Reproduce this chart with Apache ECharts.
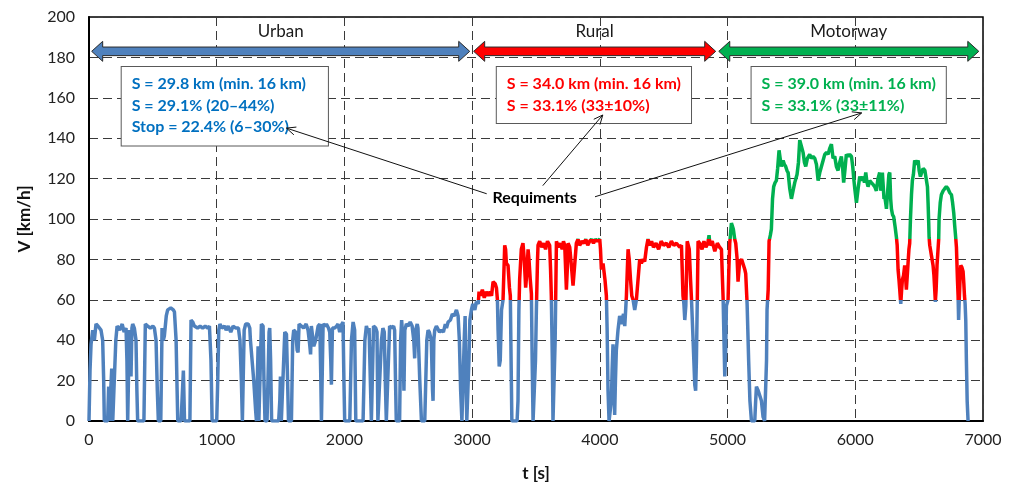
<!DOCTYPE html>
<html><head><meta charset="utf-8">
<script src="https://cdn.jsdelivr.net/npm/echarts@6/dist/echarts.min.js"></script>
<style>html,body{margin:0;padding:0;background:#fff}#c{width:1016px;height:489px}</style>
</head><body><div id="c"></div>
<script>
// speed trace: [time s, speed km/h]
const speedTrace = [
[0,0],[8,25],[16,38],[29,45],[42,40],[55,48],[70,47],[81,47],[94,45],[107,40],[115,20],[120,0],[146,0],[154,17],[159,0],[170,0],[178,26],[186,0],[200,0],
[210,40],[220,47],[240,45],[260,48],[275,44],[290,46],[297,30],[303,0],[312,0],[316,45],[325,40],[329,22],[336,46],[342,48],[355,46],[368,40],[375,15],[381,0],[430,0],
[441,48],[460,47],[480,46],[500,47],[512,46],[525,40],[535,15],[543,0],[562,0],[572,46],[582,40],[590,42],[605,52],[616,55],[640,56],[660,55],[669,54],[682,40],[690,15],[695,0],
[721,0],[739,25],[748,0],[765,0],[790,0],[799,50],[812,49],[825,47],[850,46],[870,47],[890,46],[910,47],[930,46],[943,47],[955,30],[964,0],[1000,0],
[1008,20],[1016,45],[1025,48],[1040,46],[1060,47],[1074,45],[1090,47],[1110,44],[1128,47],[1150,46],[1170,46],[1182,40],[1193,20],[1201,0],[1208,0],
[1215,45],[1227,48],[1246,48],[1259,46],[1264,40],[1279,40],[1290,20],[1305,5],[1311,0],[1318,0],[1324,37],[1330,0],[1340,0],[1350,48],[1363,47],[1370,20],[1378,0],[1394,0],
[1410,44],[1415,46],[1422,30],[1430,0],[1485,0],[1494,10],[1499,22],[1506,0],[1520,0],[1533,44],[1546,43],[1555,20],[1562,0],[1585,0],
[1595,40],[1603,45],[1619,44],[1630,35],[1637,34],[1645,48],[1663,47],[1680,46],[1700,48],[1715,45],[1728,38],[1735,33],[1741,47],[1760,37],[1775,40],[1794,47],[1807,48],[1814,25],[1820,0],[1826,0],
[1833,48],[1850,47],[1859,48],[1875,46],[1885,44],[1893,30],[1898,18],[1906,46],[1924,46],[1940,47],[1950,48],[1963,44],[1980,48],[1989,49],[1996,20],[2002,0],[2042,0],
[2055,40],[2068,49],[2080,45],[2089,0],[2146,0],[2160,40],[2172,47],[2185,44],[2193,46],[2203,20],[2211,0],[2218,0],[2228,47],[2245,46],[2255,44],[2262,0],[2275,0],
[2290,40],[2301,46],[2312,44],[2320,20],[2328,0],[2341,0],[2354,47],[2370,46],[2385,47],[2393,45],[2400,20],[2406,0],[2432,0],
[2440,40],[2448,50],[2458,40],[2466,15],[2473,45],[2485,48],[2500,47],[2515,49],[2530,47],[2543,40],[2550,31],[2557,45],[2570,48],[2576,46],[2590,20],[2603,0],[2629,0],
[2645,40],[2655,45],[2665,44],[2680,40],[2690,15],[2694,10],[2700,40],[2707,45],[2720,47],[2733,47],[2745,44],[2760,45],[2775,44],[2790,48],[2799,46],[2812,49],[2830,50],[2845,53],[2860,52],[2877,55],[2890,52],[2900,40],[2910,15],[2920,0],[2930,0],
[2938,40],[2945,52],[2952,20],[2958,0],[2968,0],[2975,30],[2982,50],[2994,55],[3005,58],[3021,55],[3033,59],[3048,58],[3054,64],[3065,62],[3080,65],[3095,61],[3110,64],[3125,62],[3140,64],[3152,62],[3164,69],[3180,68],[3190,66],[3198,60],
[3203,45],[3212,27],[3220,30],[3230,55],[3242,60],[3255,87],[3262,85],[3268,78],[3281,77],[3292,66],[3299,62],[3305,30],[3311,0],[3352,0],[3359,10],[3366,55],[3372,70],[3385,85],[3398,88],[3408,80],[3419,66],[3430,75],[3438,85],[3445,80],[3455,70],[3464,63],[3470,30],[3477,0],[3487,0],
[3496,30],[3503,55],[3512,80],[3516,87],[3529,89],[3545,86],[3560,88],[3575,85],[3590,89],[3607,87],[3614,75],[3620,62],[3628,30],[3633,0],[3646,0],[3650,40],[3654,60],[3660,89],[3673,86],[3690,88],[3705,85],[3715,89],[3725,87],[3738,65],[3745,75],[3751,88],[3764,86],[3777,77],[3790,67],[3800,75],
[3816,88],[3829,90],[3842,87],[3860,89],[3875,88],[3890,90],[3905,87],[3920,89],[3935,90],[3950,88],[3965,90],[3980,89],[3999,90],[4005,85],[4012,75],[4025,78],[4040,70],[4051,62],[4057,45],[4064,15],[4072,0],[4085,0],
[4090,10],[4096,25],[4103,38],[4110,20],[4116,3],[4122,20],[4129,35],[4142,45],[4155,52],[4170,48],[4185,53],[4195,47],[4202,55],[4208,62],[4215,75],[4221,85],[4230,80],[4240,70],[4250,62],[4260,60],[4273,55],[4286,60],[4300,60],
[4312,80],[4325,78],[4338,80],[4351,79],[4365,86],[4377,90],[4390,87],[4405,89],[4420,86],[4440,88],[4460,85],[4480,89],[4500,87],[4520,88],[4540,86],[4560,89],[4580,87],[4600,88],[4625,86],[4639,87],[4651,62],[4658,58],[4665,50],[4673,57],
[4684,89],[4691,89],[4700,85],[4710,70],[4717,61],[4730,40],[4743,18],[4750,15],[4756,30],[4763,60],[4769,89],[4782,88],[4800,85],[4815,89],[4830,86],[4845,88],[4855,92],[4862,87],[4880,89],[4900,84],[4920,88],[4938,86],[4952,85],[4960,70],[4965,61],
[4972,40],[4978,22],[4985,35],[4991,57],[5004,60],[5010,75],[5017,88],[5030,98],[5045,95],[5056,90],[5064,88],[5075,80],[5082,69],[5095,79],[5110,80],[5121,80],[5135,75],[5142,73],[5150,62],[5153,58],[5165,30],[5175,10],[5187,0],[5213,0],
[5220,10],[5226,17],[5240,15],[5252,15],[5265,10],[5278,2],[5290,0],[5299,0],[5305,30],[5309,55],[5318,65],[5325,89],[5335,92],[5343,95],[5352,110],[5361,116],[5372,118],[5382,119],[5392,125],[5403,134],[5412,130],[5421,126],[5435,129],[5445,127],[5455,126],[5465,124],[5474,123],
[5487,115],[5500,110],[5513,114],[5526,118],[5535,120],[5544,122],[5555,128],[5565,139],[5578,136],[5591,133],[5602,128],[5612,126],[5625,130],[5643,132],[5656,130],[5669,131],[5683,130],[5696,127],[5709,119],[5722,123],[5735,126],[5748,129],[5761,132],[5775,133],[5787,132],
[5800,135],[5813,137],[5826,130],[5839,131],[5852,126],[5865,124],[5878,128],[5891,131],[5900,126],[5909,118],[5920,125],[5930,132],[5945,131],[5956,132],[5970,131],[5980,126],[5988,120],[5998,114],[6009,108],[6022,115],[6035,121],[6048,119],[6061,121],[6072,118],[6082,123],
[6092,118],[6100,116],[6113,119],[6126,118],[6140,117],[6152,116],[6165,114],[6178,120],[6191,123],[6200,114],[6204,116],[6212,123],[6218,117],[6225,110],[6231,111],[6238,108],[6244,105],[6255,115],[6263,122],[6270,123],[6277,110],[6283,105],[6292,102],[6301,101],[6312,96],[6322,91],
[6328,87],[6335,75],[6342,70],[6348,65],[6356,58],[6362,64],[6369,70],[6378,72],[6387,77],[6394,71],[6400,65],[6407,72],[6413,78],[6420,85],[6426,88],[6432,100],[6440,112],[6447,119],[6455,122],[6465,129],[6478,127],[6492,129],[6500,124],[6510,121],[6520,123],[6531,125],[6545,124],[6557,124],
[6565,116],[6570,108],[6575,98],[6578,91],[6583,87],[6596,82],[6609,77],[6616,72],[6622,65],[6627,59],[6633,65],[6640,77],[6647,84],[6653,90],[6656,100],[6665,108],[6674,112],[6688,114],[6700,115],[6713,116],[6726,115],[6740,113],[6753,112],[6762,108],[6771,103],[6778,97],[6786,91],
[6792,86],[6800,70],[6805,62],[6809,50],[6813,58],[6820,70],[6826,77],[6835,76],[6844,74],[6850,68],[6855,62],[6860,58],[6865,50],[6870,30],[6876,10],[6883,0]
];

const xTickValues = [0,1000,2000,3000,4000,5000,6000,7000];
const yTickValues = [0,20,40,60,80,100,120,140,160,180,200];

// speed bands (km/h) and colours
const bandLimits = [60, 90];
const bandColors = ['#4f81bd', '#ff0000', '#00b050'];

// phase arrows: name, start time, end time, colour
const phaseNames = ['Urban', 'Rural', 'Motorway'];
const phaseStart = [21, 3012, 4931];
const phaseEnd = [2981, 4907, 6967];
const phaseArrowLevel = 183;
const phaseLabelLevel = 193;

// info boxes
const boxLines = [
  ['S = 29.8 km (min. 16 km)', 'S = 29.1% (20\u201344%)', 'Stop = 22.4% (6\u201330%)'],
  ['S = 34.0 km (min. 16 km)', 'S = 33.1% (33\u00b110%)'],
  ['S = 39.0 km (min. 16 km)', 'S = 33.1% (33\u00b111%)']
];
const boxTextColors = ['#0070c0', '#ff0000', '#00b050'];
const boxAnchor = [[256, 175.2], [3193, 175.2], [5188, 175.2]];

const reqLabel = 'Requiments';
const reqAnchor = [3490, 110.4];
const reqArrows = [
  [[3114, 112.5], [1546, 145]],
  [[3553, 116.5], [4023, 151.5]],
  [[3962, 111], [6050, 152.5]]
];

const FONT = 'Lato, "Noto Sans", sans-serif';
const chart = echarts.init(document.getElementById('c'));

function renderPhase(params, api) {
  const p1 = api.coord([api.value(0), api.value(2)]);
  const p2 = api.coord([api.value(1), api.value(2)]);
  const lab = api.coord([(api.value(0) + api.value(1)) / 2, phaseLabelLevel]);
  const i = params.dataIndex;
  const y = p1[1], x1 = p1[0], x2 = p2[0];
  const hl = 11, hh = 10, bh = 4.3;
  const pts = [[x1, y], [x1 + hl, y - hh], [x1 + hl, y - bh], [x2 - hl, y - bh], [x2 - hl, y - hh], [x2, y],
               [x2 - hl, y + hh], [x2 - hl, y + bh], [x1 + hl, y + bh], [x1 + hl, y + hh]];
  return {
    type: 'group',
    children: [
      { type: 'polygon', shape: { points: pts }, style: { fill: bandColors[i], stroke: '#2b2b2b', lineWidth: 1 } },
      { type: 'text', x: lab[0], y: lab[1], style: { text: phaseNames[i], font: '17px ' + FONT, fill: '#1a1a1a', align: 'center', verticalAlign: 'middle' } }
    ]
  };
}

chart.setOption({
  animation: false,
  backgroundColor: '#fff',
  grid: { left: 89, right: 33, top: 17, bottom: 68, show: true, borderColor: '#000', borderWidth: 1.5, backgroundColor: 'transparent' },
  xAxis: {
    type: 'value', min: 0, max: 7000, interval: 1000,
    name: 't [s]', nameLocation: 'middle', nameGap: 44,
    nameTextStyle: { fontFamily: FONT, fontWeight: 'bold', fontSize: 17, color: '#111' },
    axisLine: { show: true, onZero: false, lineStyle: { color: '#000', width: 2 } },
    axisTick: { show: false },
    axisLabel: { fontFamily: FONT, fontSize: 16, color: '#222', margin: 11, formatter: v => String(v) },
    splitLine: { show: true, lineStyle: { color: '#3a3a3a', type: [9, 5], width: 1 } }
  },
  yAxis: {
    type: 'value', min: 0, max: 200, interval: 20,
    name: 'V [km/h]', nameLocation: 'middle', nameGap: 56,
    nameTextStyle: { fontFamily: FONT, fontWeight: 'bold', fontSize: 17, color: '#111' },
    axisLine: { show: true, lineStyle: { color: '#000', width: 2 } },
    axisTick: { show: false },
    axisLabel: { fontFamily: FONT, fontSize: 16, color: '#222', margin: 14, formatter: v => String(v) },
    splitLine: { show: true, lineStyle: { color: '#3a3a3a', type: [9, 5], width: 1 } }
  },
  visualMap: {
    type: 'piecewise', show: false, dimension: 1, seriesIndex: 0,
    pieces: [
      { lt: bandLimits[0], color: bandColors[0] },
      { gte: bandLimits[0], lt: bandLimits[1], color: bandColors[1] },
      { gte: bandLimits[1], color: bandColors[2] }
    ]
  },
  series: [
    {
      type: 'line', data: speedTrace, showSymbol: false, symbol: 'none',
      lineStyle: { width: 3.5 }, z: 3, silent: true
    },
    {
      type: 'custom', renderItem: renderPhase, z: 4, silent: true,
      encode: { x: [0, 1], y: 2 },
      data: phaseNames.map((n, i) => [phaseStart[i], phaseEnd[i], phaseArrowLevel, i])
    }
  ]
});

function px(p) { return chart.convertToPixel({ gridIndex: 0 }, p); }
const graphics = [];
boxLines.forEach((lines, i) => {
  const p = px(boxAnchor[i]);
  graphics.push({
    type: 'text', x: p[0], y: p[1], z: 10,
    style: {
      text: lines.join('\n'), font: 'bold 16px ' + FONT, fill: boxTextColors[i],
      lineHeight: 21.5, backgroundColor: '#fff', borderColor: '#595959', borderWidth: 1,
      padding: i === 0 ? [6, 22, 8, 10] : [6, 10, 7, 10], align: 'left', verticalAlign: 'top'
    }
  });
});
reqArrows.forEach(a => {
  const s = px(a[0]), e = px(a[1]);
  const ang = Math.atan2(e[1] - s[1], e[0] - s[0]);
  const L = 10, w = 0.42;
  const h1 = [e[0] - L * Math.cos(ang - w), e[1] - L * Math.sin(ang - w)];
  const h2 = [e[0] - L * Math.cos(ang + w), e[1] - L * Math.sin(ang + w)];
  graphics.push({ type: 'line', z: 11, shape: { x1: s[0], y1: s[1], x2: e[0], y2: e[1] }, style: { stroke: '#111', lineWidth: 1 } });
  graphics.push({ type: 'polyline', z: 11, shape: { points: [h1, e, h2] }, style: { stroke: '#111', lineWidth: 1, fill: null } });
});
const rp = px(reqAnchor);
graphics.push({ type: 'text', x: rp[0], y: rp[1], z: 12, style: { text: reqLabel, font: 'bold 16px ' + FONT, fill: '#000', align: 'center', verticalAlign: 'middle', backgroundColor: '#fff', padding: [1, 2] } });
chart.setOption({ graphic: graphics });
</script></body></html>
